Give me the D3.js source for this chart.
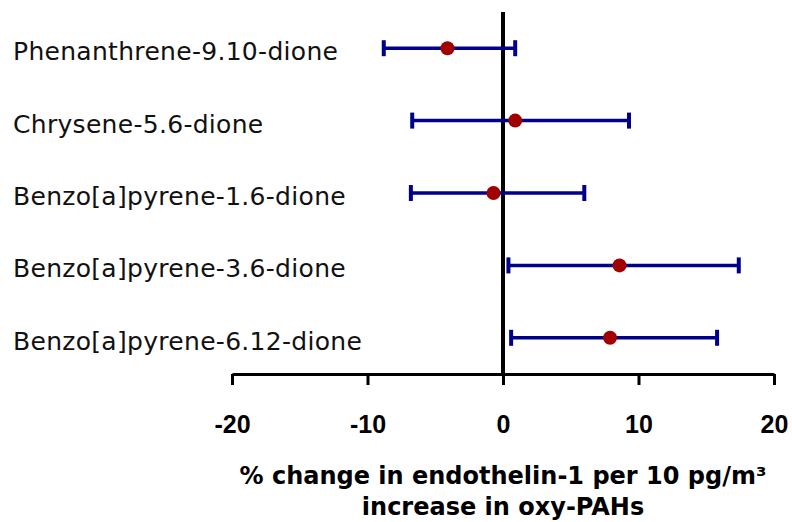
<!DOCTYPE html>
<html>
<head>
<meta charset="utf-8">
<script src="https://cdn.jsdelivr.net/npm/d3@7"></script>
<style>
  html, body { margin: 0; padding: 0; background: #fff; }
  svg { display: block; }
</style>
</head>
<body>
<svg id="chart" width="792" height="522"></svg>
<script>
// Oxy-PAH compounds, top to bottom
const compounds = [
  "Phenanthrene-9.10-dione",
  "Chrysene-5.6-dione",
  "Benzo[a]pyrene-1.6-dione",
  "Benzo[a]pyrene-3.6-dione",
  "Benzo[a]pyrene-6.12-dione"
];
// % change estimates with 95% confidence limits
const estimate = [-4.1, 0.9, -0.7, 8.6, 7.9];
const lowerCI  = [-8.8, -6.7, -6.8, 0.4, 0.6];
const upperCI  = [0.9, 9.3, 6.0, 17.4, 15.8];
const xTicks   = [-20, -10, 0, 10, 20];
const titleLines = ["% change in endothelin-1 per 10 pg/m³", "increase in oxy-PAHs"];

const rows = compounds.map((name, i) => ({
  name, est: estimate[i], lo: lowerCI[i], hi: upperCI[i]
}));

const svg = d3.select("#chart");
const plotTop = 12, plotBottom = 374;

const x = d3.scaleLinear().domain([-20, 20]).range([232, 774]);
const y = d3.scaleBand().domain(compounds).range([plotTop, plotBottom]);
const cy = d => y(d) + y.bandwidth() / 2;

// x axis
const axis = svg.append("g")
  .attr("transform", `translate(0,${plotBottom})`)
  .call(d3.axisBottom(x).tickValues(xTicks).tickSizeOuter(0).tickSizeInner(11).tickPadding(0).tickFormat(d => String(d)));
axis.select(".domain").attr("stroke", "#000").attr("stroke-width", 3);
axis.selectAll(".tick line").attr("stroke", "#000").attr("stroke-width", 3);
axis.selectAll(".tick text")
  .attr("fill", "#000")
  .attr("y", 59)
  .attr("dy", null)
  .style("font-family", "'Liberation Sans', Arial, sans-serif")
  .style("font-weight", "bold")
  .style("font-size", "25px");

// reference line at zero
svg.append("line")
  .attr("x1", x(0)).attr("x2", x(0))
  .attr("y1", plotTop).attr("y2", plotBottom)
  .attr("stroke", "#000").attr("stroke-width", 4);

// confidence intervals
const ci = svg.append("g").attr("stroke", "#00008B").attr("stroke-width", 3.5).attr("fill", "none");
ci.selectAll("line.bar").data(rows).join("line").attr("class", "bar")
  .attr("x1", d => x(d.lo)).attr("x2", d => x(d.hi))
  .attr("y1", d => cy(d.name)).attr("y2", d => cy(d.name));
ci.selectAll("line.capL").data(rows).join("line").attr("class", "capL")
  .attr("stroke-width", 4)
  .attr("x1", d => x(d.lo)).attr("x2", d => x(d.lo))
  .attr("y1", d => cy(d.name) - 8).attr("y2", d => cy(d.name) + 8);
ci.selectAll("line.capR").data(rows).join("line").attr("class", "capR")
  .attr("stroke-width", 4)
  .attr("x1", d => x(d.hi)).attr("x2", d => x(d.hi))
  .attr("y1", d => cy(d.name) - 8).attr("y2", d => cy(d.name) + 8);

// point estimates
svg.append("g").selectAll("circle").data(rows).join("circle")
  .attr("cx", d => x(d.est)).attr("cy", d => cy(d.name)).attr("r", 7)
  .attr("fill", "#A00000");

// compound labels
svg.append("g").selectAll("text").data(rows).join("text")
  .attr("x", 13).attr("y", d => cy(d.name) + 12)
  .style("font-family", "'DejaVu Sans', sans-serif")
  .style("font-size", "25px")
  .style("letter-spacing", "0.3px")
  .attr("fill", "#111")
  .text(d => d.name);

// axis title
svg.append("g").selectAll("text").data(titleLines).join("text")
  .attr("x", x(0)).attr("y", (d, i) => 484 + i * 31)
  .attr("text-anchor", "middle")
  .style("font-family", "'DejaVu Sans', sans-serif")
  .style("font-weight", "bold")
  .style("font-size", "24px")
  .attr("fill", "#000")
  .text(d => d);
</script>
</body>
</html>
